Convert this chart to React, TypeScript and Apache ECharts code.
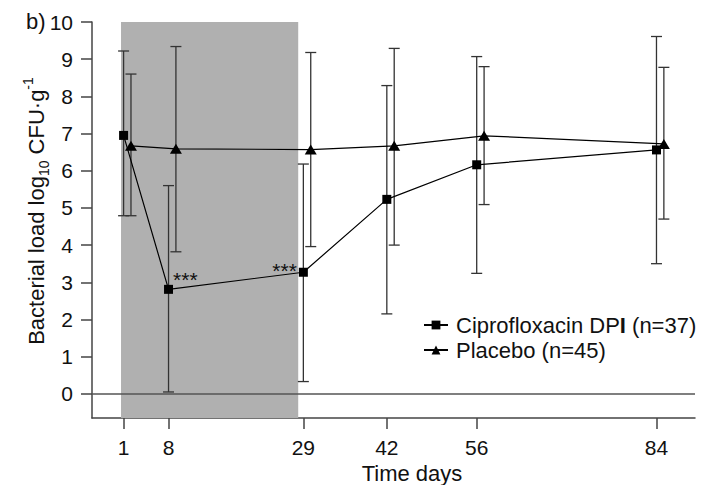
import React, { useEffect, useRef } from "react";
import * as echarts from "echarts";

// ---- data ----
const days = [1, 8, 29, 42, 56, 84];
const tickDays = [1, 8, 29, 42, 56, 84];
const yTicks = [0, 1, 2, 3, 4, 5, 6, 7, 8, 9, 10];

const ciproName = "Ciprofloxacin DPI (n=37)";
const placeboName = "Placebo (n=45)";

const ciproMean = [6.95, 2.81, 3.27, 5.23, 6.16, 6.56];
const ciproUpper = [9.22, 5.6, 6.18, 8.29, 9.07, 9.61];
const ciproLower = [4.79, 0.05, 0.33, 2.15, 3.24, 3.5];

const placeboMean = [6.67, 6.59, 6.57, 6.67, 6.94, 6.72];
const placeboUpper = [8.6, 9.34, 9.18, 9.29, 8.8, 8.78];
const placeboLower = [4.79, 3.82, 3.96, 4.0, 5.09, 4.7];

const significance = ["", "***", "***", "", "", ""];
const treatmentPeriod = [0.6, 28.2];
const placeboDodge = 1.15; // days, horizontal offset of placebo markers

const FONT = '"Liberation Sans", Arial, Helvetica, sans-serif';
const TEXT = "#111";
const AXIS = "#444";

export default function App() {
  const ref = useRef<HTMLDivElement>(null);

  useEffect(() => {
    const chart = echarts.init(ref.current!, null, { renderer: "svg" });

    const placeboX = days.map((d) => d + placeboDodge);

    const errorSeries = (name: string, xs: number[], lo: number[], hi: number[]) => ({
      type: "custom",
      name,
      silent: true,
      z: 2,
      data: xs.map((x, i) => [x, lo[i], hi[i]]),
      encode: { x: 0, y: [1, 2] },
      renderItem: (_params: any, api: any) => {
        const x = api.value(0);
        const p0 = api.coord([x, api.value(1)]);
        const p1 = api.coord([x, api.value(2)]);
        const hw = 5.5;
        const style = { stroke: "#333", lineWidth: 1.3 };
        return {
          type: "group",
          children: [
            { type: "line", shape: { x1: p0[0], y1: p0[1], x2: p1[0], y2: p1[1] }, style },
            { type: "line", shape: { x1: p0[0] - hw, y1: p0[1], x2: p0[0] + hw, y2: p0[1] }, style },
            { type: "line", shape: { x1: p1[0] - hw, y1: p1[1], x2: p1[0] + hw, y2: p1[1] }, style },
          ],
        };
      },
    });

    const starLabel = (i: number) => {
      if (!significance[i]) return undefined;
      const right = i === 1;
      return {
        show: true,
        formatter: significance[i],
        position: right ? "right" : "left",
        distance: right ? 0 : 2,
        offset: right ? [0, -10] : [0, -2],
        fontSize: 21,
        color: TEXT,
        fontFamily: FONT,
      };
    };

    const ciproData = days.map((d, i) => {
      const lab = starLabel(i);
      return lab ? { value: [d, ciproMean[i]], label: lab } : { value: [d, ciproMean[i]] };
    });
    const placeboData = placeboX.map((d, i) => [d, placeboMean[i]]);

    const option: any = {
      animation: false,
      backgroundColor: "#fff",
      textStyle: { fontFamily: FONT },
      grid: { left: 92, right: 14, top: 22, bottom: 67, containLabel: false, outerBoundsMode: "none" },
      xAxis: {
        type: "value",
        min: -3.92,
        max: 90,
        axisLine: { show: true, onZero: false, lineStyle: { color: AXIS, width: 1.5 } },
        axisTick: { show: true, length: 11, customValues: tickDays, lineStyle: { color: AXIS, width: 1.5 } },
        axisLabel: { show: true, customValues: tickDays, fontSize: 21, color: TEXT, fontFamily: FONT, margin: 19 },
        splitLine: { show: false },
      },
      yAxis: {
        type: "value",
        min: -0.65,
        max: 10,
        axisLine: { show: true, onZero: false, lineStyle: { color: AXIS, width: 1.5 } },
        axisTick: { show: true, length: 11, customValues: yTicks, lineStyle: { color: AXIS, width: 1.5 } },
        axisLabel: { show: true, customValues: yTicks, fontSize: 21, color: TEXT, fontFamily: FONT, margin: 19 },
        splitLine: { show: false },
      },
      legend: {
        orient: "vertical",
        left: 418,
        top: 309,
        itemWidth: 24,
        itemHeight: 11,
        itemGap: 3,
        data: [ciproName, placeboName],
        formatter: (name: string) =>
          name === ciproName ? "{a|Ciprofloxacin DP}{b|I}{c| (n=37)}" : "{a|Placebo (n=45)}",
        textStyle: {
          fontSize: 22,
          lineHeight: 22,
          color: TEXT,
          fontFamily: FONT,
          rich: {
            a: { fontSize: 22, lineHeight: 22, color: TEXT, fontFamily: FONT, padding: [0, 0, 0, 3] },
            b: { fontSize: 22, lineHeight: 22, color: TEXT, fontFamily: FONT, fontWeight: "bold" },
            c: { fontSize: 22, lineHeight: 22, color: TEXT, fontFamily: FONT },
          },
        },
      },
      graphic: [
        {
          type: "text",
          left: 26,
          top: 10,
          style: { text: "b)", fontSize: 22, fill: TEXT, fontFamily: FONT },
        },
        {
          type: "text",
          x: 36,
          y: 211,
          rotation: Math.PI / 2,
          style: {
            text: "{a|Bacterial load log}{s|10}{a| CFU·g}{p|-1}",
            align: "center",
            verticalAlign: "middle",
            fill: TEXT,
            fontFamily: FONT,
            rich: {
              a: { fontSize: 22, lineHeight: 30, fill: TEXT, fontFamily: FONT },
              s: { fontSize: 14, lineHeight: 30, fill: TEXT, fontFamily: FONT, verticalAlign: "bottom" },
              p: { fontSize: 14, lineHeight: 30, fill: TEXT, fontFamily: FONT, verticalAlign: "top" },
            },
          },
        },
        {
          type: "text",
          x: 412,
          y: 473,
          style: {
            text: "Time days",
            fontSize: 22,
            fill: TEXT,
            fontFamily: FONT,
            align: "center",
            verticalAlign: "middle",
          },
        },
      ],
      series: [
        errorSeries("ciproErr", days, ciproLower, ciproUpper),
        errorSeries("placeboErr", placeboX, placeboLower, placeboUpper),
        {
          type: "line",
          name: ciproName,
          z: 3,
          data: ciproData,
          symbol: "rect",
          symbolSize: 9,
          itemStyle: { color: "#000" },
          lineStyle: { color: "#000", width: 1.2 },
          markArea: {
            silent: true,
            itemStyle: { color: "#b0b0b0", opacity: 1 },
            data: [[{ xAxis: treatmentPeriod[0] }, { xAxis: treatmentPeriod[1] }]],
          },
          markLine: {
            silent: true,
            symbol: "none",
            label: { show: false },
            lineStyle: { color: "#555", width: 1.5, type: "solid" },
            data: [{ yAxis: 0 }],
          },
        },
        {
          type: "line",
          name: placeboName,
          z: 3,
          data: placeboData,
          symbol: "triangle",
          symbolSize: [12, 10],
          itemStyle: { color: "#000" },
          lineStyle: { color: "#000", width: 1.2 },
        },
      ],
    };

    chart.setOption(option);
    return () => chart.dispose();
  }, []);

  return <div ref={ref} style={{ position: "fixed", left: 0, top: 0, width: 709, height: 485 }} />;
}
